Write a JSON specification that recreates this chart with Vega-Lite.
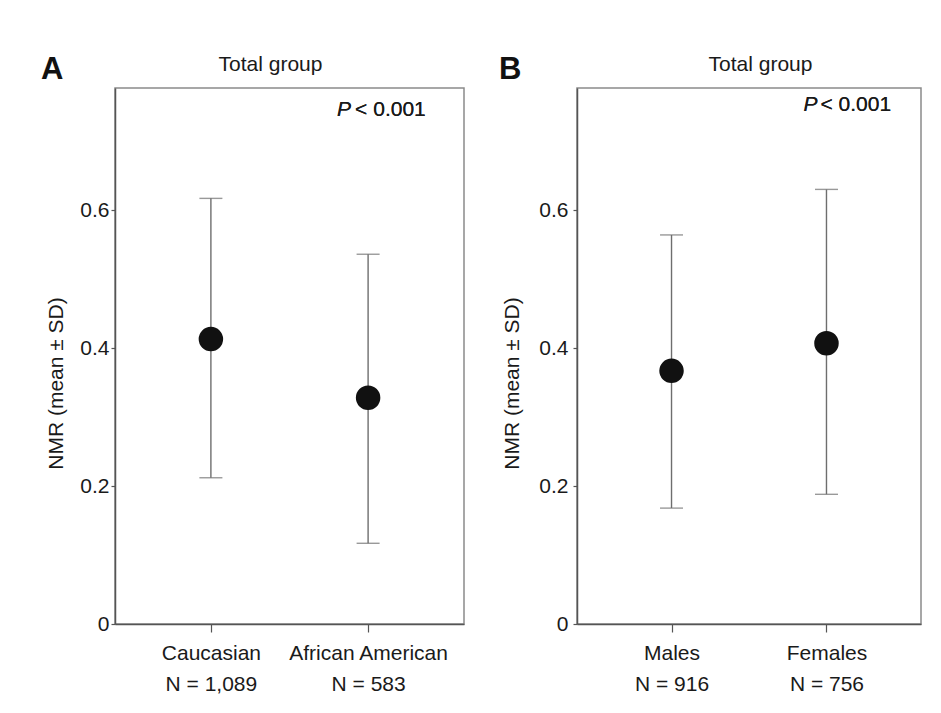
{
  "$schema": "https://vega.github.io/schema/vega-lite/v6.json",
  "padding": {"top": 52, "left": 40, "right": 0, "bottom": 0},
  "background": "white",
  "spacing": 33,
  "config": {
    "font": "Liberation Sans",
    "view": {"stroke": "#8a8a8a", "strokeWidth": 1.5},
    "axis": {
      "labelFont": "Liberation Sans", "titleFont": "Liberation Sans",
      "labelColor": "#1a1a1a", "titleColor": "#1a1a1a",
      "labelFontSize": 21, "titleFontSize": 21, "titleFontWeight": "normal", "labelFontWeight": "normal",
      "grid": false, "domainColor": "#555", "domainWidth": 1.5, "tickColor": "#555", "tickWidth": 1.2
    },
    "title": {"font": "Liberation Sans", "color": "#111"}
  },
  "hconcat": [
    {
      "width": 349, "height": 536,
      "title": {"text": "A", "anchor": "start", "frame": "group", "dx": -74, "fontSize": 31, "fontWeight": "bold", "offset": -57, "baseline": "alphabetic"},
      "data": {"values": [
        {"group": "Caucasian", "mean": 0.413, "lo": 0.212, "hi": 0.617},
        {"group": "African American", "mean": 0.328, "lo": 0.117, "hi": 0.536}
      ]},
      "layer": [
        {"mark": {"type": "rule", "color": "#6e6e6e", "strokeWidth": 1.4},
         "encoding": {
           "x": {"field": "group", "type": "nominal", "sort": null,
             "scale": {"type": "point", "padding": 0.61, "domain": ["Caucasian", "African American"]},
             "axis": {"orient": "bottom", "title": null, "labelAngle": 0, "tickSize": 8, "labelPadding": 10, "labelLineHeight": 31,
               "labelExpr": "datum.value == 'Caucasian' ? ['Caucasian', 'N = 1,089'] : ['African American', 'N = 583']"}},
           "y": {"field": "lo", "type": "quantitative",
            "scale": {"domain": [0, 0.777], "nice": false, "zero": true},
            "axis": {"title": "NMR (mean ± SD)", "values": [0, 0.2, 0.4, 0.6], "format": "~g", "tickSize": 4, "labelPadding": 2, "titlePadding": 13, "titleY": 295}},
           "y2": {"field": "hi"}}},
        {"mark": {"type": "tick", "color": "#6e6e6e", "size": 23, "thickness": 1.4},
         "encoding": {"x": {"field": "group", "type": "nominal", "sort": null, "axis": null}, "y": {"field": "hi", "type": "quantitative"}}},
        {"mark": {"type": "tick", "color": "#6e6e6e", "size": 23, "thickness": 1.4},
         "encoding": {"x": {"field": "group", "type": "nominal", "sort": null, "axis": null}, "y": {"field": "lo", "type": "quantitative"}}},
        {"mark": {"type": "circle", "size": 600, "color": "#111", "opacity": 1},
         "encoding": {"x": {"field": "group", "type": "nominal", "sort": null, "axis": null}, "y": {"field": "mean", "type": "quantitative"}}},
        {"mark": {"type": "text", "text": "P", "fontStyle": "italic", "fontSize": 21, "align": "right", "baseline": "alphabetic", "dx": -17, "color": "#1a1a1a"},
         "encoding": {"x": {"datum": "African American", "type": "nominal", "axis": null}, "y": {"datum": 0.736, "type": "quantitative"}}},
        {"mark": {"type": "text", "text": "< 0.001", "fontSize": 21, "align": "left", "baseline": "alphabetic", "dx": -13, "color": "#1a1a1a"},
         "encoding": {"x": {"datum": "African American", "type": "nominal", "axis": null}, "y": {"datum": 0.736, "type": "quantitative"}}},
        {"mark": {"type": "point", "opacity": 0},
         "encoding": {"x": {"field": "group", "type": "nominal", "sort": null,
           "axis": {"orient": "top", "labels": false, "ticks": false, "domain": false, "title": "Total group",
             "titleX": 155, "titleY": -18, "titleAlign": "center", "titleBaseline": "alphabetic", "titleAngle": 0}}}}
      ],
      "resolve": {"axis": {"x": "independent"}}
    },
    {
      "width": 344, "height": 536,
      "title": {"text": "B", "anchor": "start", "frame": "group", "dx": -78, "fontSize": 31, "fontWeight": "bold", "offset": -57, "baseline": "alphabetic"},
      "data": {"values": [
        {"group": "Males", "mean": 0.367, "lo": 0.168, "hi": 0.564},
        {"group": "Females", "mean": 0.407, "lo": 0.188, "hi": 0.630}
      ]},
      "layer": [
        {"mark": {"type": "rule", "color": "#6e6e6e", "strokeWidth": 1.4},
         "encoding": {
           "x": {"field": "group", "type": "nominal", "sort": null,
             "scale": {"type": "point", "padding": 0.61, "domain": ["Males", "Females"]},
             "axis": {"orient": "bottom", "title": null, "labelAngle": 0, "tickSize": 8, "labelPadding": 10, "labelLineHeight": 31,
               "labelExpr": "datum.value == 'Males' ? ['Males', 'N = 916'] : ['Females', 'N = 756']"}},
           "y": {"field": "lo", "type": "quantitative",
            "scale": {"domain": [0, 0.777], "nice": false, "zero": true},
            "axis": {"title": "NMR (mean ± SD)", "values": [0, 0.2, 0.4, 0.6], "format": "~g", "tickSize": 4, "labelPadding": 5, "titlePadding": 16, "titleY": 295}},
           "y2": {"field": "hi"}}},
        {"mark": {"type": "tick", "color": "#6e6e6e", "size": 23, "thickness": 1.4},
         "encoding": {"x": {"field": "group", "type": "nominal", "sort": null, "axis": null}, "y": {"field": "hi", "type": "quantitative"}}},
        {"mark": {"type": "tick", "color": "#6e6e6e", "size": 23, "thickness": 1.4},
         "encoding": {"x": {"field": "group", "type": "nominal", "sort": null, "axis": null}, "y": {"field": "lo", "type": "quantitative"}}},
        {"mark": {"type": "circle", "size": 600, "color": "#111", "opacity": 1},
         "encoding": {"x": {"field": "group", "type": "nominal", "sort": null, "axis": null}, "y": {"field": "mean", "type": "quantitative"}}},
        {"mark": {"type": "text", "text": "P", "fontStyle": "italic", "fontSize": 21, "align": "right", "baseline": "alphabetic", "dx": -9, "color": "#1a1a1a"},
         "encoding": {"x": {"datum": "Females", "type": "nominal", "axis": null}, "y": {"datum": 0.743, "type": "quantitative"}}},
        {"mark": {"type": "text", "text": "< 0.001", "fontSize": 21, "align": "left", "baseline": "alphabetic", "dx": -6, "color": "#1a1a1a"},
         "encoding": {"x": {"datum": "Females", "type": "nominal", "axis": null}, "y": {"datum": 0.743, "type": "quantitative"}}},
        {"mark": {"type": "point", "opacity": 0},
         "encoding": {"x": {"field": "group", "type": "nominal", "sort": null,
           "axis": {"orient": "top", "labels": false, "ticks": false, "domain": false, "title": "Total group",
             "titleX": 183, "titleY": -18, "titleAlign": "center", "titleBaseline": "alphabetic", "titleAngle": 0}}}}
      ],
      "resolve": {"axis": {"x": "independent"}}
    }
  ]
}
